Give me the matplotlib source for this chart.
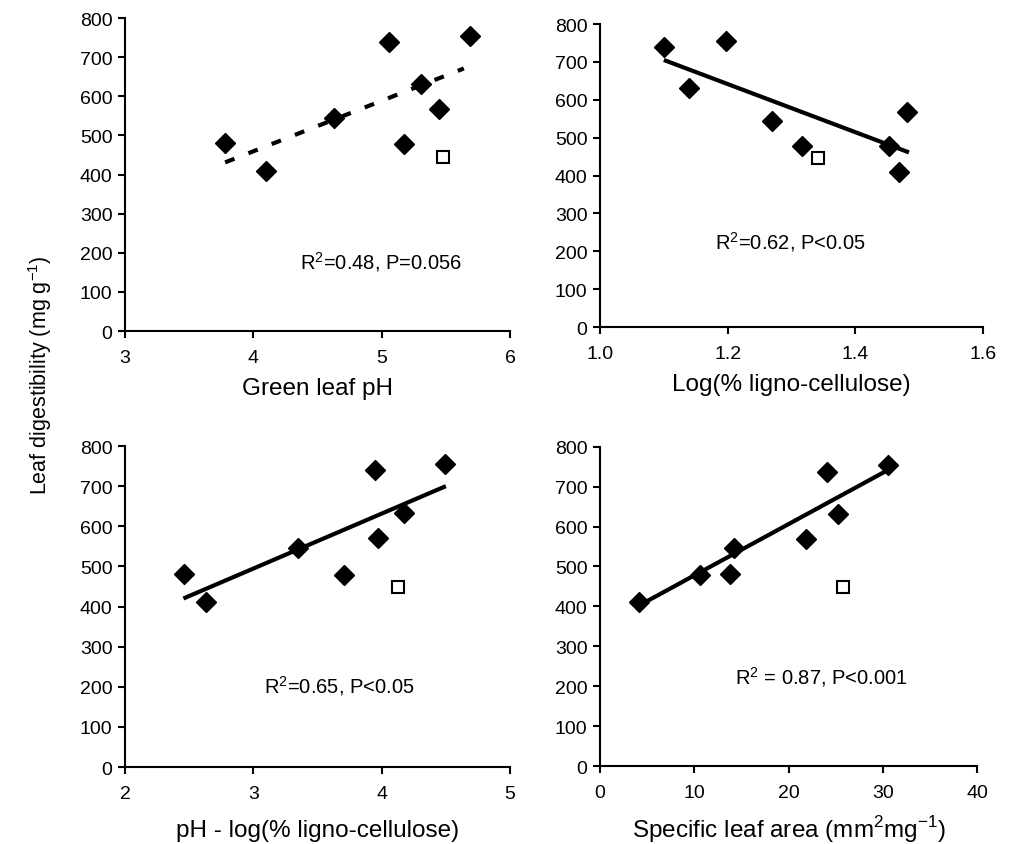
import matplotlib.pyplot as plt
from matplotlib.ticker import FormatStrFormatter

plt.rcParams["font.family"] = ["Liberation Sans", "DejaVu Sans"]
plt.rcParams["mathtext.fontset"] = "custom"
plt.rcParams["mathtext.rm"] = "Liberation Sans"

# Panel 1: green leaf pH
ph_x = [3.78, 4.10, 4.63, 5.06, 5.17, 5.31, 5.45, 5.69]
ph_y = [480, 410, 544, 738, 479, 631, 567, 753]
ph_open = (5.475, 446)
ph_fit_x = [3.78, 5.64]
ph_fit_y = [431, 671]

# Panel 2: log(% ligno-cellulose)
lig_x = [1.100, 1.139, 1.198, 1.270, 1.316, 1.452, 1.468, 1.481]
lig_y = [738, 630, 754, 544, 478, 477, 408, 568]
lig_open = (1.341, 446)
lig_fit_x = [1.100, 1.484]
lig_fit_y = [705, 461]

# Panel 3: pH - log(% ligno-cellulose)
comb_x = [2.46, 2.63, 3.35, 3.71, 3.95, 3.97, 4.17, 4.49]
comb_y = [482, 411, 547, 478, 739, 571, 632, 754]
comb_open = (4.13, 449)
comb_fit_x = [2.455, 4.50]
comb_fit_y = [420, 700]

# Panel 4: specific leaf area
sla_x = [4.13, 10.6, 13.8, 14.2, 21.8, 24.1, 25.2, 30.5]
sla_y = [410, 479, 481, 546, 569, 737, 631, 754]
sla_open = (25.8, 448)
sla_fit_x = [4.13, 30.5]
sla_fit_y = [402, 741]


def draw_panel(ax, x, y, open_pt, fit_x, fit_y, xlim, xticks, xlabel, note,
               note_xy, dashed=False, fmt=None, labelpad=2):
    ls = (0, (2.4, 3.6)) if dashed else "-"
    ax.plot(fit_x, fit_y, color="black", lw=3, linestyle=ls,
            solid_capstyle="butt", dash_capstyle="butt", zorder=2)
    ax.plot(x, y, linestyle="none", marker="D", ms=10, color="black",
            zorder=3, clip_on=False)
    ax.plot([open_pt[0]], [open_pt[1]], linestyle="none", marker="s", ms=9,
            markerfacecolor="white", markeredgecolor="black",
            markeredgewidth=1.5, zorder=3)
    ax.set_xlim(*xlim)
    ax.set_ylim(0, 800)
    ax.set_xticks(xticks)
    ax.set_yticks(range(0, 801, 100))
    if fmt:
        ax.xaxis.set_major_formatter(FormatStrFormatter(fmt))
    for side in ("top", "right"):
        ax.spines[side].set_visible(False)
    for side in ("left", "bottom"):
        ax.spines[side].set_linewidth(1.5)
    ax.tick_params(axis="both", direction="out", length=5, width=1.5,
                   labelsize=14)
    ax.tick_params(axis="x", pad=8)
    ax.tick_params(axis="y", pad=4)
    ax.set_xlabel(xlabel, fontsize=17.5, labelpad=labelpad)
    ax.text(note_xy[0], note_xy[1], note, fontsize=14.5, ha="left",
            va="center")


fig = plt.figure(figsize=(10.1, 8.45), dpi=100)
ax1 = fig.add_axes([0.1238, 0.6071, 0.3812, 0.3704])
ax2 = fig.add_axes([0.5941, 0.6118, 0.3792, 0.3586])
ax3 = fig.add_axes([0.1238, 0.0911, 0.3812, 0.3799])
ax4 = fig.add_axes([0.5941, 0.0923, 0.3733, 0.3779])

draw_panel(ax1, ph_x, ph_y, ph_open, ph_fit_x, ph_fit_y, (3, 6), [3, 4, 5, 6],
           "Green leaf pH", r"R$^2$=0.48, P=0.056", (4.36, 180), dashed=True,
           labelpad=8)
draw_panel(ax2, lig_x, lig_y, lig_open, lig_fit_x, lig_fit_y, (1.0, 1.6),
           [1.0, 1.2, 1.4, 1.6], "Log(% ligno-cellulose)",
           r"R$^2$=0.62, P<0.05", (1.18, 227), fmt="%.1f", labelpad=8)
draw_panel(ax3, comb_x, comb_y, comb_open, comb_fit_x, comb_fit_y, (2, 5),
           [2, 3, 4, 5], "pH - log(% ligno-cellulose)",
           r"R$^2$=0.65, P<0.05", (3.08, 204), labelpad=12)
draw_panel(ax4, sla_x, sla_y, sla_open, sla_fit_x, sla_fit_y, (0, 40),
           [0, 10, 20, 30, 40], r"Specific leaf area (mm$^2$mg$^{-1}$)",
           r"R$^2$ = 0.87, P<0.001", (14.3, 226), labelpad=9)

fig.text(40 / 1010, 0.556, r"Leaf digestibility (mg g$^{-1}$)", fontsize=15.5,
         rotation=90, ha="center", va="center")

fig.savefig("out.png", dpi=100)
